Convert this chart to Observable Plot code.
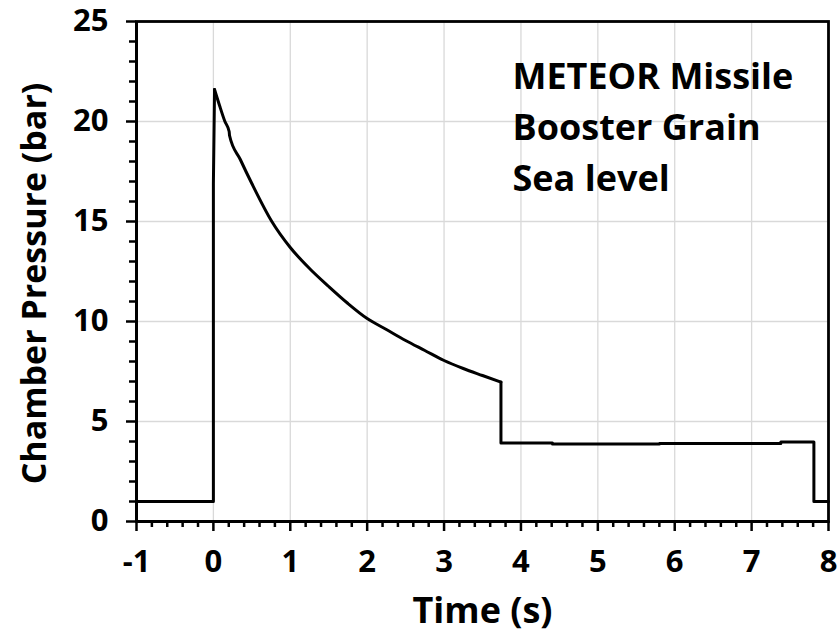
<!DOCTYPE html>
<html>
<head>
<meta charset="utf-8">
<script src="https://cdn.jsdelivr.net/npm/d3@7"></script>
<script src="https://cdn.jsdelivr.net/npm/@observablehq/plot@0.6"></script>
<style>
  html, body { margin: 0; padding: 0; background: #fff; }
  #chart { width: 838px; height: 637px; }
</style>
</head>
<body>
<div id="chart"></div>
<script>
// ---- data ----
const riseTime = [-1, 0, 0, 0.015];
const risePressure = [1, 1, 16.9, 21.6];

const burnTime = [0.015, 0.08, 0.15, 0.205, 0.21, 0.35, 0.5, 0.76, 1.0, 1.25, 1.5, 1.75, 2.0, 2.25, 2.5, 2.75, 3.0, 3.25, 3.5, 3.74];
const burnPressure = [21.6, 20.8, 20.0, 19.5, 19.3, 18.1, 16.9, 15.0, 13.7, 12.65, 11.75, 10.9, 10.15, 9.6, 9.05, 8.55, 8.05, 7.65, 7.3, 6.97];

const sustainTime = [3.74, 3.74, 4.41, 4.41, 5.8, 5.8, 7.38, 7.38, 7.81, 7.81, 8.0];
const sustainPressure = [6.97, 3.93, 3.93, 3.87, 3.87, 3.9, 3.9, 3.97, 3.97, 1.0, 1.0];

const xTicks = [-1, 0, 1, 2, 3, 4, 5, 6, 7, 8];
const yTicks = [0, 5, 10, 15, 20, 25];
const xGrid = [0, 1, 2, 3, 4, 5, 6, 7];
const yGrid = [5, 10, 15, 20];
const xMinor = d3.range(-1, 8.0001, 0.2).map(v => +v.toFixed(1)).filter(v => !Number.isInteger(v));
const yMinor = d3.range(0, 26, 1).filter(v => v % 5 !== 0);

const xTitle = "Time (s)";
const yTitle = "Chamber Pressure (bar)";
const annotation = ["METEOR Missile", "Booster Grain", "Sea level"];

const FONT = "'Open Sans', 'DejaVu Sans', sans-serif";

const chart = Plot.plot({
  width: 838,
  height: 637,
  marginLeft: 136,
  marginRight: 10,
  marginTop: 21,
  marginBottom: 116,
  x: {domain: [-1, 8], label: null, axis: null},
  y: {domain: [0, 25], label: null, axis: null},
  style: {fontFamily: FONT, fontWeight: "bold", color: "black", background: "white", overflow: "visible"},
  marks: [
    Plot.gridX(xGrid, {stroke: "#d9d9d9", strokeOpacity: 1, strokeWidth: 1.3}),
    Plot.gridY(yGrid, {stroke: "#d9d9d9", strokeOpacity: 1, strokeWidth: 1.3}),
    Plot.axisX(xMinor, {tickSize: 6, tickFormat: () => "", strokeWidth: 2.5, label: null}),
    Plot.axisX(xTicks, {tickSize: 10, tickFormat: () => "", strokeWidth: 2.5, label: null}),
    Plot.axisY(yMinor, {tickSize: 7, tickFormat: () => "", strokeWidth: 2.5, label: null}),
    Plot.axisY(yTicks, {tickSize: 10, tickFormat: () => "", strokeWidth: 2.5, label: null}),
    // tick labels
    Plot.text(xTicks, {x: d => d, text: d => String(d), frameAnchor: "bottom", lineAnchor: "middle", dy: 41, fontSize: 31, fill: "black"}),
    Plot.text(yTicks, {y: d => d, text: d => String(d), frameAnchor: "left", textAnchor: "end", lineAnchor: "middle", dx: -28, fontSize: 31, fill: "black"}),
    Plot.frame({stroke: "black", strokeWidth: 2.8}),
    Plot.ruleY([0], {stroke: "black", strokeWidth: 3}),
    Plot.ruleX([-1], {stroke: "black", strokeWidth: 3}),
    Plot.line(riseTime, {x: riseTime, y: risePressure, stroke: "black", strokeWidth: 3}),
    Plot.line(burnTime, {x: burnTime, y: burnPressure, stroke: "black", strokeWidth: 3, curve: "monotone-x"}),
    Plot.line(sustainTime, {x: sustainTime, y: sustainPressure, stroke: "black", strokeWidth: 3}),
    Plot.text([xTitle], {text: d => d, frameAnchor: "bottom", dy: 90, fontSize: 36, lineAnchor: "middle", fill: "black"}),
    Plot.text([yTitle], {text: d => d, frameAnchor: "left", textAnchor: "middle", rotate: -90, dx: -101, dy: 12, fontSize: 34, lineAnchor: "middle", fill: "black"}),
    Plot.text([annotation.join("\n")], {
      text: d => d, frameAnchor: "top-left", textAnchor: "start", lineAnchor: "top",
      dx: 376, dy: 31, fontSize: 36, lineHeight: 1.42, fill: "black", ariaLabel: "annotation"
    })
  ]
});

document.getElementById("chart").appendChild(chart);

// white box behind the annotation, sized from the rendered text
const g = chart.querySelector('g[aria-label="annotation"]');
if (g) {
  const bb = g.getBBox();
  const rect = document.createElementNS("http://www.w3.org/2000/svg", "rect");
  rect.setAttribute("x", bb.x - 6);
  rect.setAttribute("y", bb.y - 4);
  rect.setAttribute("width", bb.width + 13);
  rect.setAttribute("height", bb.height + 6);
  rect.setAttribute("fill", "white");
  g.insertBefore(rect, g.firstChild);
}
</script>
</body>
</html>
